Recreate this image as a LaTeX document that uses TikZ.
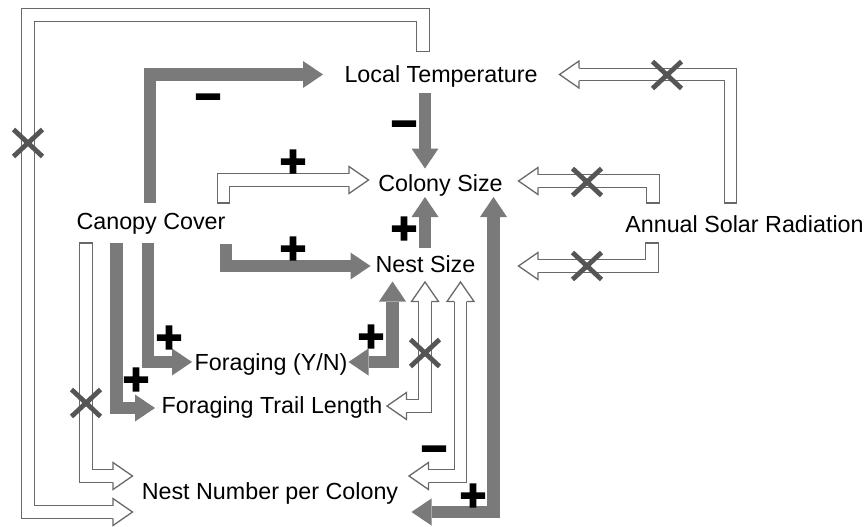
\documentclass[tikz,border=0pt]{standalone}
\usepackage{fontspec}
\setmainfont{Liberation Sans}
\newfontface\signfont{DejaVu Sans Bold}[FakeBold=7]
\definecolor{fg}{RGB}{122,122,122}
\definecolor{og}{RGB}{105,105,105}
\definecolor{xg}{RGB}{85,85,85}
\tikzset{
  fshaft/.style={draw=fg, line width=12.5pt, line join=miter},
  hshaft/.style={draw=og, line width=1.3pt, double=white, double distance=11.2pt, line join=miter, line cap=rect},
  lbl/.style={font=\fontsize{23.3}{28}\selectfont, anchor=base, inner sep=0pt},
  sgn/.style={font=\signfont\fontsize{35}{35}\selectfont, inner sep=0pt, text height=23pt, text depth=0pt},
  xmk/.style={draw=xg, line width=4.8pt},
  xm/.pic={\draw[xmk] (-14.5,-13.5) -- (14.5,13.5) (-14.5,13.5) -- (14.5,-13.5);}
}
\newcommand\fhead[2]{\fill[fg, shift={(#1)}, rotate=#2] (0.5,0) -- (-19.5,13.5) -- (-19.5,-13.5) -- cycle;}
\newcommand\hhead[2]{\filldraw[fill=white, draw=og, line width=1.3pt, line join=miter, shift={(#1)}, rotate=#2] (-19.5,6.25) -- (-19.5,13.5) -- (0,0) -- (-19.5,-13.5) -- (-19.5,-6.25);}
\begin{document}
\begin{tikzpicture}[x=1pt,y=-1pt]
\fill[white] (0,0) rectangle (867,527);
\useasboundingbox (0,0) rectangle (867,527);

% labels
\node[lbl] (lt)  at (441,82)    {Local Temperature};
\node[lbl] (cs)  at (440.5,191) {Colony Size};
\node[lbl] (ns)  at (425.5,272) {Nest Size};
\node[lbl] (cc)  at (151,229)   {Canopy Cover};
\node[lbl] (asr) at (744.5,232) {Annual Solar Radiation};
\node[lbl] (fyn) at (271,370.5) {Foraging (Y/N)};
\node[lbl] (ftl) at (272,413)   {Foraging Trail Length};
\node[lbl] (nnc) at (270,499.5) {Nest Number per Colony};

% connector ends
\coordinate (a1s) at (423,45);       \coordinate (a1t) at (132.5,512);
\coordinate (a2s) at (86,249.25);    \coordinate (a2t) at (132.5,476);
\coordinate (h1s) at (223.5,196.75); \coordinate (h1t) at (368.5,180);
\coordinate (h2s) at (730.5,196.75); \coordinate (h2t) at (559.5,74.5);
\coordinate (h3as) at (653,196.75);  \coordinate (h3at) at (518.5,181);
\coordinate (h3bs) at (652,249.25);  \coordinate (h3bt) at (518.5,266);
\coordinate (h4a) at (425,282);      \coordinate (h4b) at (387,406);
\coordinate (h5a) at (460.5,282);    \coordinate (h5b) at (409,476);

\coordinate (f1s) at (150,203);   \coordinate (f1t) at (322.5,74.5);
\coordinate (f2s) at (148,243);   \coordinate (f2t) at (191.5,362);
\coordinate (f3s) at (116.5,243); \coordinate (f3t) at (154.5,408);
\coordinate (f4s) at (425,93);    \coordinate (f4t) at (425,168);
\coordinate (f5s) at (425,248);   \coordinate (f5t) at (425,197.5);
\coordinate (f6s) at (226,244);   \coordinate (f6t) at (370,266);
\coordinate (d1a) at (392.5,282); \coordinate (d1b) at (349,362);
\coordinate (d2a) at (493.5,197.5); \coordinate (d2b) at (412,512);

% hollow arrows
\draw[hshaft] (a1s) |- (28,15) |- ([xshift=-19.5pt]a1t);
\draw[hshaft] (a2s) |- ([xshift=-19.5pt]a2t);
\draw[hshaft] (h1s) |- ([xshift=-19.5pt]h1t);
\draw[hshaft] (h2s) |- ([xshift=19.5pt]h2t);
\draw[hshaft] (h3as) |- ([xshift=19.5pt]h3at);
\draw[hshaft] (h3bs) |- ([xshift=19.5pt]h3bt);
\draw[hshaft] ([yshift=-19.5pt]h4a) |- ([xshift=19.5pt]h4b);
\draw[hshaft] ([yshift=-19.5pt]h5a) |- ([xshift=19.5pt]h5b);
\hhead{a1t}{0} \hhead{a2t}{0} \hhead{h1t}{0}
\hhead{h2t}{180} \hhead{h3at}{180} \hhead{h3bt}{180}
\hhead{h4a}{90} \hhead{h4b}{180} \hhead{h5a}{90} \hhead{h5b}{180}

% filled arrows
\draw[fshaft] (f1s) |- ([xshift=-19.5pt]f1t); \fhead{f1t}{0}
\draw[fshaft] (f2s) |- ([xshift=-19.5pt]f2t); \fhead{f2t}{0}
\draw[fshaft] (f3s) |- ([xshift=-19.5pt]f3t); \fhead{f3t}{0}
\draw[fshaft] (f4s) -- ([yshift=19.5pt]f4t); \fhead{f4t}{-90}
\draw[fshaft] (f5s) -- ([yshift=-19.5pt]f5t); \fhead{f5t}{90}
\draw[fshaft] (f6s) |- ([xshift=-19.5pt]f6t); \fhead{f6t}{0}
\draw[fshaft] ([yshift=-19.5pt]d1a) |- ([xshift=19.5pt]d1b); \fhead{d1a}{90} \fhead{d1b}{180}
\draw[fshaft] ([yshift=-19.5pt]d2a) |- ([xshift=19.5pt]d2b); \fhead{d2a}{90} \fhead{d2b}{180}

% no-effect marks
\pic at (28,143) {xm};
\pic at (86,403) {xm};
\pic at (667,75) {xm};
\pic at (587,182) {xm};
\pic at (587,266) {xm};
\pic at (425,353) {xm};

% signs
\node[sgn] (s1)  at (208,96)  {−};
\node[sgn] (s2)  at (293,161) {+};
\node[sgn] (s3)  at (404,123) {−};
\node[sgn] (s4)  at (404,228) {+};
\node[sgn] (s5)  at (293,248) {+};
\node[sgn] (s6)  at (169,337) {+};
\node[sgn] (s7)  at (136,379) {+};
\node[sgn] (s8)  at (371,336) {+};
\node[sgn] (s9)  at (434,448) {−};
\node[sgn] (s10) at (473,495) {+};
\end{tikzpicture}
\end{document}
